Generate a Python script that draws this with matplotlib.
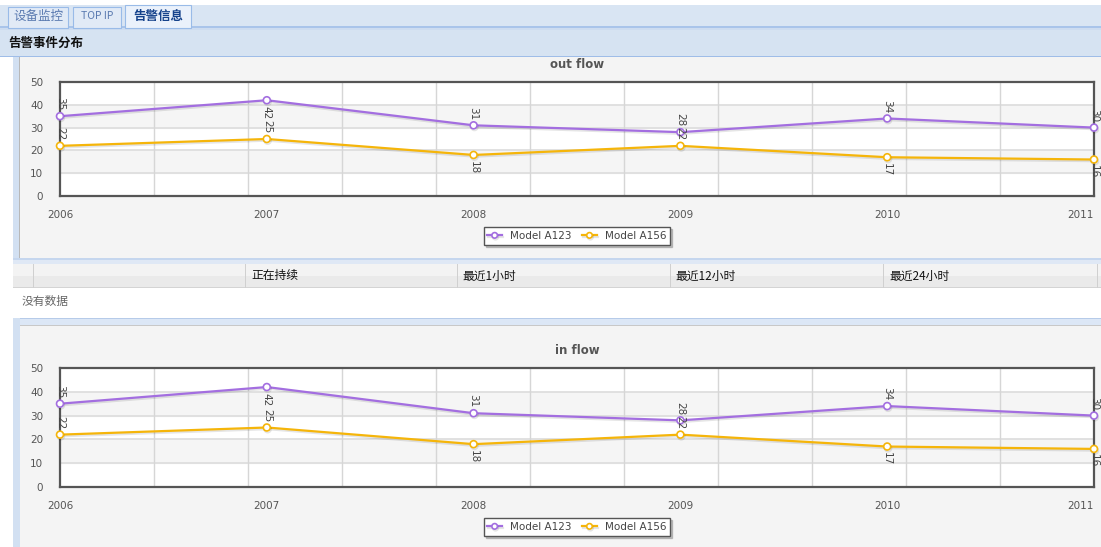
import matplotlib.pyplot as plt
import matplotlib.patheffects as pe
from matplotlib.patches import Rectangle
import numpy as np

plt.rcParams['font.family'] = ['DejaVu Sans', 'Noto Sans CJK SC']

# data
years = ['2006', '2007', '2008', '2009', '2010', '2011']
model_a123 = [35, 42, 31, 28, 34, 30]
model_a156 = [22, 25, 18, 22, 17, 16]
# where each value label sits relative to its point
pos_a123 = ['above', 'below', 'above', 'above', 'above', 'above']
pos_a156 = ['above', 'above', 'below', 'above', 'below', 'below']
tabs = ['设备监控', 'TOP IP', '告警信息']
columns = ['正在持续', '最近1小时', '最近12小时', '最近24小时']

W, H = 1101, 547
fig = plt.figure(figsize=(W / 100, H / 100), dpi=100)
fig.patch.set_facecolor('white')

# page background drawn in pixel coordinates
bg = fig.add_axes([0, 0, 1, 1])
bg.set_xlim(0, W)
bg.set_ylim(H, 0)
bg.axis('off')

def box(x, y, w, h, fc, ec='none', lw=0, z=0):
    bg.add_patch(Rectangle((x, y), w, h, facecolor=fc, edgecolor=ec, linewidth=lw, zorder=z))

cjk = ['Noto Sans CJK SC', 'DejaVu Sans']

# tab bar
box(0, 5, W, 22, '#d9e5f3')
box(0, 26, W, 1.5, '#a9c4ea')
box(0, 28, W, 2, '#cddcf0')
tab_x = [(8, 60), (73, 48), (125, 66)]
for i, (name, (tx, tw)) in enumerate(zip(tabs, tab_x)):
    active = i == 2
    box(tx, 7 if not active else 5, tw, 21 if not active else 23,
        '#eaf1fb' if active else '#e1eaf6', ec='#99bbe8', lw=0.8, z=1)
    bg.text(tx + tw / 2, 16, name, ha='center', va='center', zorder=2,
            fontsize=9 if name != 'TOP IP' else 7.5,
            fontweight='bold' if active else 'normal',
            color='#15428b' if active else '#5a7ab0', family=cjk)

# section header
box(0, 30, W, 26, '#d6e3f2')
box(0, 55.5, W, 1.5, '#9fbde8')
bg.text(8, 43, '告警事件分布', ha='left', va='center', fontsize=9,
        fontweight='bold', color='#111111', family=cjk)

# panel 1
box(13, 57, 7, 203, '#d2e0f2')
box(19, 57, 1, 203, '#b8b8b8')
box(20, 57, W - 20, 201, '#f4f4f4')
box(13, 258, W - 13, 2, '#c5d6ee')
box(13, 260, W - 13, 4, '#dfe8f5')

# table header row
box(13, 264, W - 13, 24, '#eaeaea')
box(13, 264, W - 13, 12, '#f3f3f3')
box(13, 287, W - 13, 1, '#d4d4d4')
for sx in [33, 245, 457, 670, 883, 1097]:
    box(sx, 264, 1, 24, '#d0d0d0')
for lx, col in zip([251, 462, 675, 889], columns):
    bg.text(lx, 276, col, ha='left', va='center', fontsize=8.5,
            color='#111111', family=cjk)

bg.text(22, 301, '没有数据', ha='left', va='center', fontsize=8.5,
        color='#666666', family=cjk)

# panel 2
box(13, 318, W - 13, 8, '#dce7f6')
box(13, 318, W - 13, 1.2, '#b6cbe9')
box(13, 318, 7, H - 318, '#d2e0f2')
box(20, 325, W - 20, 1, '#c8c8c8')
box(20, 326, W - 20, H - 326, '#f4f4f4')

purple = '#a36ee0'
yellow = '#f5b50a'
shadow = [pe.SimpleLineShadow(offset=(0.6, -1.2), shadow_color='#000000', alpha=0.1),
          pe.Normal()]

def flow_chart(top, bottom, title, title_y):
    ax = fig.add_axes([60 / W, 1 - bottom / H, 1034 / W, (bottom - top) / H])
    ax.set_xlim(0, 5)
    ax.set_ylim(0, 50)
    ax.set_facecolor('white')
    for lo in [10, 30]:
        ax.axhspan(lo, lo + 10, color='#f5f5f5', zorder=0)
    for gy in [10, 20, 30, 40]:
        ax.axhline(gy, color='#dcdcdc', lw=1.2, zorder=1)
    for k in range(1, 11):
        ax.axvline(k * 5 / 11, color='#d6d6d6', lw=1.0, zorder=1)

    x = np.arange(len(years))
    for vals, places, c, name in [(model_a123, pos_a123, purple, 'Model A123'),
                                  (model_a156, pos_a156, yellow, 'Model A156')]:
        ax.plot(x, vals, color=c, lw=1.6, marker='o', ms=5, mfc='white',
                mec=c, mew=1.2, label=name, zorder=4, clip_on=False,
                path_effects=shadow)
        for xi, v, p in zip(x, vals, places):
            off = 4 if p == 'above' else -4
            ax.annotate(str(v), (xi, v), xytext=(0, off), textcoords='offset points',
                        rotation=270, ha='center',
                        va='bottom' if p == 'above' else 'top',
                        fontsize=7.5, color='#444444', zorder=5)

    for s in ax.spines.values():
        s.set_color('#555555')
        s.set_linewidth(1.6)
    ax.set_xticks(x)
    ax.set_xticklabels(years)
    ax.set_yticks([0, 10, 20, 30, 40, 50])
    ax.tick_params(length=0, labelsize=7.5, colors='#555555')
    ax.tick_params(axis='x', pad=10)
    ax.tick_params(axis='y', pad=12)
    ax.get_xticklabels()[-1].set_ha('right')
    ax.get_xticklabels()[-1].set_x(5.0)

    bg.text(577, title_y, title, ha='center', va='center', fontsize=8.5,
            fontweight='bold', color='#555555')

    leg_y = (bottom - (bottom + 40)) / (bottom - top)
    leg = ax.legend(loc='center', bbox_to_anchor=(0.5, leg_y), ncol=2,
                    fontsize=7.5, frameon=True, fancybox=False,
                    shadow={'ox': 1.5, 'oy': -1.5, 'color': '#999999', 'alpha': 0.6},
                    handlelength=1.4, columnspacing=1.0, handletextpad=0.8,
                    borderpad=0.35, markerscale=0.8)
    leg.get_frame().set_edgecolor('#555555')
    leg.get_frame().set_linewidth(1.0)
    for t in leg.get_texts():
        t.set_color('#444444')
    return ax

flow_chart(82, 196, 'out flow', 64)
flow_chart(368, 487, 'in flow', 350)

fig.savefig('out.png', dpi=100)
